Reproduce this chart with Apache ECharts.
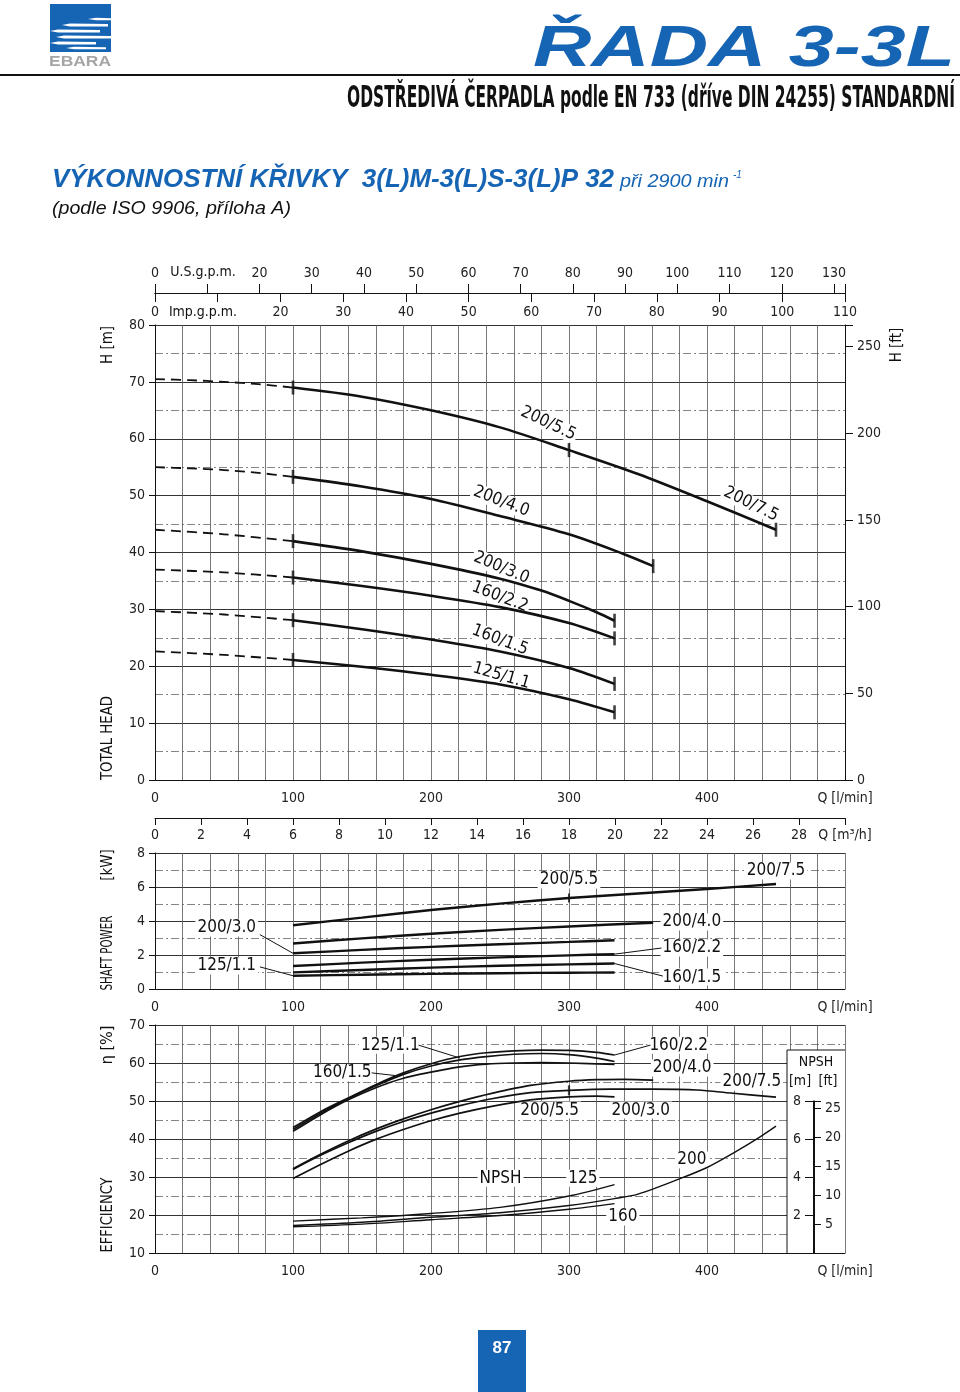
<!DOCTYPE html>
<html><head><meta charset="utf-8">
<script src="https://cdn.jsdelivr.net/npm/echarts@6/dist/echarts.min.js"></script>
<style>html,body{margin:0;padding:0;background:#fff}#c{width:960px;height:1392px}</style>
</head><body><div id="c"></div>
<script>
// ---------------- DATA ----------------
// Head curves: [Q l/min, H m]
const h200_75 = [[0,70.5],[25,70.3],[50,70],[75,69.6],[100,69],[150,67.4],[200,65],[250,62],[300,58],[350,53.8],[400,49],[450,44]];
const h200_40 = [[0,55],[25,54.8],[50,54.5],[75,54],[100,53.3],[150,51.6],[200,49.4],[250,46.4],[300,43.2],[340,39.7],[361,37.6]];
const h200_30 = [[0,44],[50,43.2],[100,42],[150,40.2],[200,38],[250,35.4],[280,33.3],[300,31.5],[320,29.5],[333,28]];
const h160_22 = [[0,37],[50,36.5],[100,35.6],[150,34.1],[200,32.4],[250,30.4],[300,27.6],[333,24.9]];
const h160_15 = [[0,29.7],[50,29.1],[100,28.1],[150,26.5],[200,24.7],[250,22.6],[300,19.7],[333,16.9]];
const h125_11 = [[0,22.6],[50,22],[100,21.1],[150,19.9],[200,18.5],[250,16.8],[300,14.2],[333,11.9]];
// Shaft power: [Q l/min, P kW]
const p200_75 = [[100,3.75],[150,4.2],[200,4.65],[250,5.02],[300,5.35],[350,5.62],[400,5.88],[450,6.18]];
const p200_40 = [[100,2.68],[150,2.98],[200,3.25],[250,3.48],[300,3.68],[361,3.9]];
const p200_30 = [[100,2.1],[150,2.3],[200,2.48],[250,2.63],[300,2.77],[333,2.87]];
const p160_22 = [[100,1.35],[150,1.55],[200,1.72],[250,1.86],[300,1.98],[333,2.05]];
const p160_15 = [[100,0.98],[150,1.12],[200,1.26],[250,1.37],[300,1.45],[333,1.5]];
const p125_11 = [[100,0.78],[150,0.84],[200,0.89],[250,0.93],[300,0.96],[333,0.97]];
// Efficiency: [Q l/min, eta %]
const e160_22 = [[100,43],[120,47.2],[140,50.8],[160,54.3],[180,57.4],[200,59.8],[221,61.7],[240,62.7],[260,63.2],[280,63.4],[300,63.3],[320,62.8],[333,62.1]];
const e125_11 = [[100,42.5],[120,46.8],[140,50.6],[160,54],[180,57],[200,59.2],[221,60.8],[240,61.7],[260,62.3],[280,62.5],[300,62.2],[320,61.3],[333,60.4]];
const e160_15 = [[100,42],[120,46.4],[140,50.3],[160,53.5],[180,56],[200,57.6],[221,59],[240,59.7],[260,60],[280,60.1],[300,60],[333,59.6]];
const e200_40 = [[100,32.2],[120,36],[140,39.5],[160,42.6],[180,45.3],[200,47.7],[221,49.9],[244,52],[272,54.1],[300,55.2],[320,55.6],[340,55.7],[361,55.5]];
const e200_75 = [[100,32],[120,35.7],[140,39],[160,42],[180,44.6],[200,46.8],[221,48.8],[244,50.6],[272,52.2],[300,52.8],[330,53.1],[360,53.1],[393,52.9],[417,52.1],[450,51]];
const e200_30 = [[100,29.6],[120,33.3],[140,36.8],[160,39.9],[180,42.5],[200,44.8],[221,46.8],[244,48.6],[272,50.3],[300,51.1],[320,51.3],[333,51.1]];
// NPSH: [Q l/min, NPSH m]
const n125 = [[100,1.68],[150,1.85],[200,2.08],[250,2.4],[300,3.0],[333,3.6]];
const n160 = [[100,1.38],[150,1.52],[200,1.75],[250,1.97],[300,2.3],[333,2.6]];
const n200 = [[100,1.45],[150,1.62],[200,1.88],[250,2.12],[300,2.5],[333,2.86],[350,3.1],[380,3.9],[400,4.5],[420,5.3],[435,5.95],[450,6.68]];

// ---------------- ANNOTATIONS (text placed in data space) ----------------
const headNotes = [['200/5.5',285,62.7,-25],['200/4.0',251,49.0,-21],['200/7.5',432,48.5,-26],['200/3.0',251,37.3,-23],['160/2.2',250,32.2,-21],['160/1.5',250,24.6,-21],['125/1.1',251,18.3,-16]];
const powerNotes = [['200/5.5',300,6.41,null],['200/7.5',450,6.94,null],['200/3.0',52,3.59,[[76,3.2],[100,2.1]]],['200/4.0',389,3.94,null],['160/2.2',389,2.41,[[367,2.41],[333,2.05]]],['160/1.5',389,0.7,[[368,0.76],[333,1.5]]],['125/1.1',52,1.35,[[76,1.3],[100,0.78]]]];
const effNotes = [['125/1.1',170.5,64.7,[[191,64.7],[221,61.3]]],['160/1.5',135.7,57.4,[[157,57.4],[174,56.7]]],['160/2.2',379.5,64.7,[[359,64.7],[333,62.1]]],['200/4.0',382,58.7,null],['200/7.5',432.5,55,null],['200/5.5',286,47.6,null],['200/3.0',352,47.6,null],['NPSH',250.4,29.7,null],['125',310,29.7,null],['200',389,34.5,null],['160',339,19.5,null]];

// ---------------- CHART ----------------
const NARROW = "'Liberation Sans Narrow','DejaVu Sans Condensed',sans-serif";
const SANS = "'Liberation Sans',Arial,sans-serif";
const BLUE = '#1664b4';
const INK = '#111';
const M2FT = 3.28084;

function isMult(v, step){ const r = v / step; return Math.abs(r - Math.round(r)) < 1e-6; }
const lab = {fontSize:14, fontFamily:NARROW, color:'#222'};

function qAxis(gi){
  return {type:'value', gridIndex:gi, min:0, max:500, interval:20, position:'bottom',
    axisLine:{show:true, onZero:false, lineStyle:{color:INK, width:1}},
    axisTick:{show:false},
    axisLabel:Object.assign({margin:11, formatter:v=> v===500?'Q [l/min]':(isMult(v,100)?String(v):'')}, lab),
    splitLine:{show:true, lineStyle:{color:'#555', width:0.8}}};
}
function leftAxis(gi,min,max,interval){
  return {type:'value', gridIndex:gi, min, max, interval, position:'left',
    axisLine:{show:true, onZero:false, lineStyle:{color:INK}},
    axisTick:{show:true, length:6, lineStyle:{color:INK}},
    axisLabel:Object.assign({margin:10}, lab),
    splitLine:{show:true, lineStyle:{color:'#333', width:1}},
    minorTick:{show:false, splitNumber:2},
    minorSplitLine:{show:true, lineStyle:{color:'#666', width:0.8, type:[8,3,2,3]}}};
}

const xAxis = [
  qAxis(0),
  {type:'value', gridIndex:0, min:0, max:500/3.785, interval:10, position:'top', offset:32,
   axisLine:{show:true, onZero:false, lineStyle:{color:INK}}, axisTick:{show:true, inside:false, length:9, lineStyle:{color:INK}},
   axisLabel:Object.assign({margin:13, formatter:v=> (v===10||!isMult(v,10))?'':String(v)}, lab), splitLine:{show:false}},
  {type:'value', gridIndex:0, min:0, max:110, interval:10, position:'top', offset:32,
   axisLine:{show:true, onZero:false, lineStyle:{color:INK}}, axisTick:{show:true, inside:true, length:9, lineStyle:{color:INK}},
   axisLabel:Object.assign({margin:12, inside:true, formatter:v=> (v===10||!isMult(v,10))?'':String(v)}, lab), splitLine:{show:false}},
  qAxis(1),
  {type:'value', gridIndex:1, min:0, max:30, interval:2, position:'top', offset:35,
   axisLine:{show:true, onZero:false, lineStyle:{color:INK}}, axisTick:{show:true, inside:true, length:7, lineStyle:{color:INK}},
   axisLabel:Object.assign({margin:10, inside:true, formatter:v=> v===30?'Q [m³/h]':String(v)}, lab), splitLine:{show:false}},
  qAxis(2),
  {type:'value', gridIndex:3, min:0, max:1, show:false}
];
const yAxis = [
  leftAxis(0,0,80,10),
  {type:'value', gridIndex:0, min:0, max:80*M2FT, interval:50, position:'right',
   axisLine:{show:true, onZero:false, lineStyle:{color:INK}}, axisTick:{show:true, length:8, lineStyle:{color:INK}},
   axisLabel:Object.assign({margin:12, formatter:v=> isMult(v,50)?String(v):''}, lab), splitLine:{show:false}},
  leftAxis(1,0,8,2),
  leftAxis(2,10,70,10),
  {type:'value', gridIndex:2, min:0, max:12, show:false},
  {type:'value', gridIndex:3, min:0, max:8, interval:2, position:'left', z:10,
   axisLine:{show:true, onZero:false, lineStyle:{color:INK}}, axisTick:{show:true, length:8, lineStyle:{color:INK}},
   axisLabel:Object.assign({margin:12, formatter:v=> (v>0&&isMult(v,2))?String(v):''}, lab), splitLine:{show:false}},
  {type:'value', gridIndex:3, min:0, max:8*M2FT, interval:5, position:'right', z:10,
   axisLine:{show:true, onZero:false, lineStyle:{color:INK}}, axisTick:{show:true, length:7, lineStyle:{color:INK}},
   axisLabel:Object.assign({margin:11, formatter:v=> (v>0&&isMult(v,5))?String(v):''}, lab), splitLine:{show:false}}
];
const grid = [
  {left:155, top:325, width:690, height:455},
  {left:155, top:853, width:690, height:136},
  {left:155, top:1025, width:690, height:228},
  {left:813, top:1101, width:1, height:152}
];

const series = [];
function line(data, xi, yi, width, dashed){
  series.push({type:'line', xAxisIndex:xi, yAxisIndex:yi, data, symbol:'none', smooth:0.3, silent:true,
    lineStyle:{color:INK, width, type: dashed ? [10,6] : 'solid'}, z:2});
}
function marks(data, xi, yi, size){
  series.push({type:'scatter', xAxisIndex:xi, yAxisIndex:yi, data, symbol:'rect', symbolSize:size, silent:true, itemStyle:{color:INK}, z:3});
}
const headCurves = [h200_75, h200_40, h200_30, h160_22, h160_15, h125_11];
headCurves.forEach(c=>{ line(c.filter(p=>p[0]<=100),0,0,1.8,true); line(c.filter(p=>p[0]>=100),0,0,2.6,false); });
const headMarks = [];
headCurves.forEach(c=>{ headMarks.push(c.find(p=>p[0]===100)); headMarks.push(c[c.length-1]); });
headMarks.push(h200_75.find(p=>p[0]===300));
marks(headMarks,0,0,[2.6,14]);

[p200_75,p200_40,p200_30,p160_22,p160_15,p125_11].forEach(c=>line(c,3,2,2.4,false));
marks([p200_75.find(p=>p[0]===300)],3,2,[2,9]);

[e160_22,e125_11,e160_15,e200_40,e200_75,e200_30].forEach(c=>line(c,5,3,1.7,false));
marks([e200_75.find(p=>p[0]===300)],5,3,[2.2,10]);
[n125,n160,n200].forEach(c=>line(c,5,4,1.4,false));

const chart = echarts.init(document.getElementById('c'), null, {renderer:'canvas', width:960, height:1392});
chart.setOption({animation:false, backgroundColor:'#fff', grid, xAxis, yAxis, series});

// ---------------- GRAPHICS ----------------
const ctx = document.createElement('canvas').getContext('2d');
function measure(text, font){ ctx.font = font; return ctx.measureText(text).width; }
const G = [];
function txt(text, x, y, o){
  o = o || {};
  const size = o.size||13, fam = o.family||NARROW, wt = o.weight||'normal', st = o.style||'normal';
  let sx = 1;
  if (o.fit) sx = o.fit / measure(text, st+' '+wt+' '+size+'px '+fam);
  const al = o.align||'center', va = o.va||'middle';
  G.push({type:'text', x, y, z:(o.z!==undefined?o.z:20), rotation:o.rot||0, scaleX:sx, silent:true,
    style:{text, fill:o.color||INK, fontSize:size, fontFamily:fam, fontWeight:wt, fontStyle:st,
      align:al, verticalAlign:va, textAlign:al, textVerticalAlign:va,
      backgroundColor:o.bg, padding:o.pad}});
}
function seg(x1,y1,x2,y2,w,c,z){ G.push({type:'line', z:z||20, silent:true, shape:{x1,y1,x2,y2}, style:{stroke:c||INK, lineWidth:w||1}}); }
function rect(x,y,w,h,fill,z){ G.push({type:'rect', z:z||5, silent:true, shape:{x,y,width:w,height:h}, style:{fill}}); }

// logo
rect(50,4,61,48,BLUE,5);
[[88,19,111,2.5],[62,25,108,3],[50,31,100,3],[56,37,111,3],[50,43,96,3],[66,48,106,2.5]].forEach(s=>{
  G.push({type:'polygon', z:6, silent:true, shape:{points:[[s[0],s[1]],[s[0]+8,s[1]-s[3]/2],[s[2],s[1]-s[3]/2+0.5],[s[2],s[1]+s[3]/2],[s[0]+8,s[1]+s[3]/2]]}, style:{fill:'#fff'}});
});
txt('EBARA',80,62,{size:15,weight:'bold',family:SANS,color:'#a5a5a5',fit:62});
// header rule and titles
seg(0,75,960,75,2,INK,5);
txt('ŘADA 3-3L',533,50,{size:58,weight:'bold',style:'italic',family:SANS,color:BLUE,align:'left',fit:422});
txt('ODSTŘEDIVÁ ČERPADLA podle EN 733 (dříve DIN 24255) STANDARDNÍ',347,99,{size:30,weight:'bold',family:NARROW,align:'left',fit:608});
txt('VÝKONNOSTNÍ KŘIVKY  3(L)M-3(L)S-3(L)P 32',52,180,{size:26,weight:'bold',style:'italic',family:SANS,color:BLUE,align:'left',fit:562});
txt('při 2900 min',620,182,{size:18,style:'italic',family:SANS,color:BLUE,align:'left',fit:109});
txt('-1',733,175,{size:10,style:'italic',family:SANS,color:BLUE,align:'left'});
txt('(podle ISO 9906, příloha A)',52,209,{size:19,style:'italic',family:SANS,align:'left',fit:239});

// axis names (vertical)
const R = Math.PI/2;
txt('H [m]',108,345,{size:15,rot:R});
txt('TOTAL HEAD',108,738,{size:15,rot:R,fit:84});
txt('H [ft]',897,345,{size:15,rot:R});
txt('[kW]',108,865,{size:15,rot:R});
txt('SHAFT POWER',108,953,{size:15,rot:R,fit:75});
txt('η [%]',108,1045,{size:16,rot:R});
txt('EFFICIENCY',108,1215,{size:15,rot:R,fit:75});
txt('U.S.g.p.m.',203,272,{size:14});
txt('Imp.g.p.m.',203,312,{size:14});

// NPSH box
rect(787,1050,58,203,'#fff',8);
seg(787,1050,845,1050,1,INK,9);
seg(787,1050,787,1253,1,INK,9);
txt('NPSH',816,1062,{size:14});
txt('[m]',800,1081,{size:14});
txt('[ft]',828,1081,{size:14});

// curve labels (white boxes sit over the grid but under the curves)
function px(xi,yi,q,v){ return chart.convertToPixel({xAxisIndex:xi, yAxisIndex:yi}, [q,v]); }
headNotes.forEach(n=>{ const p = px(0,0,n[1],n[2]); txt(n[0],p[0],p[1],{size:17,rot:n[3]*Math.PI/180,bg:'#fff',pad:[0,2],z:1}); });
powerNotes.forEach(n=>{
  const p = px(3,2,n[1],n[2]); txt(n[0],p[0],p[1],{size:17,bg:'#fff',pad:[0,2],z:1});
  if (n[3]) { const a = px(3,2,n[3][0][0],n[3][0][1]), b = px(3,2,n[3][1][0],n[3][1][1]); seg(a[0],a[1],b[0],b[1],1,INK,19); }
});
effNotes.forEach(n=>{
  const p = px(5,3,n[1],n[2]); txt(n[0],p[0],p[1],{size:17,bg:'#fff',pad:[0,2],z:1});
  if (n[3]) { const a = px(5,3,n[3][0][0],n[3][0][1]), b = px(5,3,n[3][1][0],n[3][1][1]); seg(a[0],a[1],b[0],b[1],1,INK,19); }
});

// page number
rect(478,1330,48,62,BLUE,5);
txt('87',502,1348,{size:17,weight:'bold',family:SANS,color:'#fff'});

chart.setOption({graphic:{elements:G}});
</script></body></html>
